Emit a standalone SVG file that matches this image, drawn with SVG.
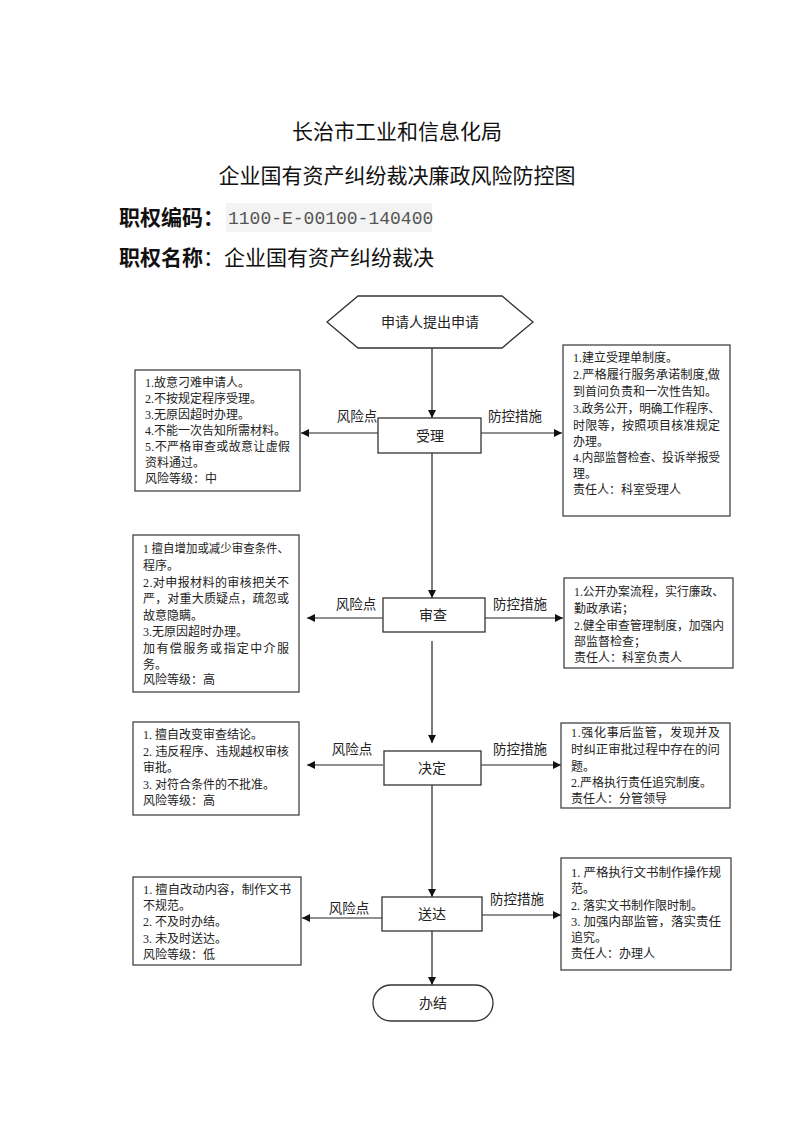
<svg xmlns="http://www.w3.org/2000/svg" width="794" height="1123" viewBox="0 0 794 1123">
<defs>
<marker id="ah" viewBox="0 0 10 10" refX="10" refY="5" markerWidth="8" markerHeight="8" markerUnits="userSpaceOnUse" orient="auto">
<path d="M0,0 L10,5 L0,10 z" fill="#111"/>
</marker>
</defs>
<style>
.title{font-family:"Noto Sans CJK SC","Noto Sans",sans-serif;font-size:21px;fill:#111}
.lbl{font-family:"Noto Sans CJK SC","Noto Sans",sans-serif;font-size:21px;fill:#111;font-weight:bold}
.code{font-family:"Liberation Mono","DejaVu Sans Mono",monospace;font-size:18px;fill:#555}
.box{fill:#fff;stroke:#444;stroke-width:1.3}
.node{fill:#fff;stroke:#333;stroke-width:1.3}
.bt{font-family:"Liberation Serif","Noto Sans CJK SC",serif;font-size:12px;fill:#222}
.nt{font-family:"Noto Sans CJK SC","Noto Sans",sans-serif;font-size:14px;fill:#222;text-anchor:middle}
.el{font-family:"Noto Sans CJK SC","Noto Sans",sans-serif;font-size:13.5px;fill:#222;text-anchor:middle}
.ln{stroke:#222;stroke-width:1.2;fill:none}
</style>
<rect width="794" height="1123" fill="#fff"/>
<g id="header">
<text class="title" x="397" y="139" text-anchor="middle">长治市工业和信息化局</text>
<text class="title" x="397" y="183" text-anchor="middle">企业国有资产纠纷裁决廉政风险防控图</text>
<text class="lbl" x="119" y="225">职权编码：</text>
<rect x="226" y="203" width="206" height="29" fill="#f3f3f3"/>
<text class="code" x="228" y="224">1100-E-00100-140400</text>
<text class="lbl" x="119" y="265">职权名称<tspan font-weight="normal">：企业国有资产纠纷裁决</tspan></text>
</g>
<g id="connectors">
<line class="ln" x1="432" y1="348" x2="432" y2="418" marker-end="url(#ah)"/>
<line class="ln" x1="432" y1="453" x2="432" y2="598" marker-end="url(#ah)"/>
<line class="ln" x1="432" y1="641" x2="432" y2="743" marker-end="url(#ah)"/>
<line class="ln" x1="432" y1="785" x2="432" y2="897" marker-end="url(#ah)"/>
<line class="ln" x1="432" y1="931" x2="432" y2="985" marker-end="url(#ah)"/>
<line class="ln" x1="378" y1="433" x2="301" y2="433" marker-end="url(#ah)"/>
<line class="ln" x1="481" y1="433" x2="562" y2="433" marker-end="url(#ah)"/>
<line class="ln" x1="383" y1="618" x2="307" y2="618" marker-end="url(#ah)"/>
<line class="ln" x1="485" y1="618" x2="563" y2="618" marker-end="url(#ah)"/>
<line class="ln" x1="383" y1="765" x2="307" y2="765" marker-end="url(#ah)"/>
<line class="ln" x1="481" y1="765" x2="561" y2="765" marker-end="url(#ah)"/>
<line class="ln" x1="382" y1="918" x2="302" y2="918" marker-end="url(#ah)"/>
<line class="ln" x1="482" y1="915" x2="561" y2="915" marker-end="url(#ah)"/>
<text class="el" x="357" y="421">风险点</text>
<text class="el" x="515" y="421">防控措施</text>
<text class="el" x="356" y="609">风险点</text>
<text class="el" x="520" y="609">防控措施</text>
<text class="el" x="352" y="754">风险点</text>
<text class="el" x="520" y="754">防控措施</text>
<text class="el" x="349" y="913">风险点</text>
<text class="el" x="517" y="904">防控措施</text>
</g>
<g id="start">
<polygon class="node" points="327,322 358,296 502,296 533,322 502,348 358,348"/>
<text class="nt" x="430" y="327">申请人提出申请</text>
</g>
<g id="shouli">
<rect class="node" x="378" y="418" width="103" height="35"/>
<text class="nt" x="430" y="441">受理</text>
</g>
<g id="shencha">
<rect class="node" x="383" y="598" width="102" height="34"/>
<text class="nt" x="433" y="620">审查</text>
</g>
<g id="jueding">
<rect class="node" x="384" y="751" width="97" height="34"/>
<text class="nt" x="432" y="773">决定</text>
</g>
<g id="songda">
<rect class="node" x="382" y="897" width="100" height="34"/>
<text class="nt" x="432" y="919">送达</text>
</g>
<g id="banjie">
<rect class="node" x="373" y="985" width="120" height="36" rx="18" ry="18"/>
<text class="nt" x="433" y="1008">办结</text>
</g>
<g id="risk1">
<rect class="box" x="135" y="370" width="165" height="121"/>
<text class="bt" x="145" y="387">1.故意刁难申请人。</text>
<text class="bt" x="145" y="403">2.不按规定程序受理。</text>
<text class="bt" x="145" y="419">3.无原因超时办理。</text>
<text class="bt" x="145" y="435">4.不能一次告知所需材料。</text>
<text class="bt" x="145" y="451" textLength="145" lengthAdjust="spacing">5.不严格审查或故意让虚假</text>
<text class="bt" x="145" y="467">资料通过。</text>
<text class="bt" x="145" y="483">风险等级：中</text>
</g>
<g id="ctrl1">
<rect class="box" x="563" y="345" width="167" height="171"/>
<text class="bt" x="573" y="362">1.建立受理单制度。</text>
<text class="bt" x="573" y="379" textLength="147" lengthAdjust="spacingAndGlyphs">2.严格履行服务承诺制度,做</text>
<text class="bt" x="573" y="396">到首问负责和一次性告知。</text>
<text class="bt" x="573" y="413" textLength="147" lengthAdjust="spacingAndGlyphs">3.政务公开，明确工作程序、</text>
<text class="bt" x="573" y="430" textLength="147" lengthAdjust="spacing">时限等，按照项目核准规定</text>
<text class="bt" x="573" y="446">办理。</text>
<text class="bt" x="573" y="462" textLength="147" lengthAdjust="spacingAndGlyphs">4.内部监督检查、投诉举报受</text>
<text class="bt" x="573" y="478">理。</text>
<text class="bt" x="573" y="494">责任人：科室受理人</text>
</g>
<g id="risk2">
<rect class="box" x="133" y="535" width="166" height="157"/>
<text class="bt" x="143" y="553" textLength="146" lengthAdjust="spacingAndGlyphs">1 擅自增加或减少审查条件、</text>
<text class="bt" x="143" y="570">程序。</text>
<text class="bt" x="143" y="587" textLength="146" lengthAdjust="spacing">2.对申报材料的审核把关不</text>
<text class="bt" x="143" y="603" textLength="146" lengthAdjust="spacing">严，对重大质疑点，疏忽或</text>
<text class="bt" x="143" y="620">故意隐瞒。</text>
<text class="bt" x="143" y="636">3.无原因超时办理。</text>
<text class="bt" x="143" y="653" textLength="146" lengthAdjust="spacing">加有偿服务或指定中介服</text>
<text class="bt" x="143" y="669">务。</text>
<text class="bt" x="143" y="684">风险等级：高</text>
</g>
<g id="ctrl2">
<rect class="box" x="564" y="578" width="169" height="90"/>
<text class="bt" x="574" y="596" textLength="150" lengthAdjust="spacingAndGlyphs">1.公开办案流程，实行廉政、</text>
<text class="bt" x="574" y="613">勤政承诺；</text>
<text class="bt" x="574" y="630" textLength="150" lengthAdjust="spacingAndGlyphs">2.健全审查管理制度，加强内</text>
<text class="bt" x="574" y="646">部监督检查；</text>
<text class="bt" x="574" y="662">责任人：科室负责人</text>
</g>
<g id="risk3">
<rect class="box" x="133" y="722" width="166" height="93"/>
<text class="bt" x="143" y="739">1. 擅自改变审查结论。</text>
<text class="bt" x="143" y="756" textLength="146" lengthAdjust="spacingAndGlyphs">2. 违反程序、违规越权审核</text>
<text class="bt" x="143" y="772">审批。</text>
<text class="bt" x="143" y="789">3. 对符合条件的不批准。</text>
<text class="bt" x="143" y="805">风险等级：高</text>
</g>
<g id="ctrl3">
<rect class="box" x="561" y="723" width="169" height="85"/>
<text class="bt" x="571" y="737" textLength="149" lengthAdjust="spacing">1.强化事后监管，发现并及</text>
<text class="bt" x="571" y="754" textLength="149" lengthAdjust="spacingAndGlyphs">时纠正审批过程中存在的问</text>
<text class="bt" x="571" y="771">题。</text>
<text class="bt" x="571" y="787">2.严格执行责任追究制度。</text>
<text class="bt" x="571" y="803">责任人：分管领导</text>
</g>
<g id="risk4">
<rect class="box" x="133" y="877" width="168" height="88"/>
<text class="bt" x="143" y="894" textLength="148" lengthAdjust="spacingAndGlyphs">1. 擅自改动内容，制作文书</text>
<text class="bt" x="143" y="910">不规范。</text>
<text class="bt" x="143" y="926">2. 不及时办结。</text>
<text class="bt" x="143" y="943">3. 未及时送达。</text>
<text class="bt" x="143" y="959">风险等级：低</text>
</g>
<g id="ctrl4">
<rect class="box" x="561" y="858" width="170" height="112"/>
<text class="bt" x="571" y="877" textLength="150" lengthAdjust="spacingAndGlyphs">1. 严格执行文书制作操作规</text>
<text class="bt" x="571" y="893">范。</text>
<text class="bt" x="571" y="910">2. 落实文书制作限时制。</text>
<text class="bt" x="571" y="926" textLength="150" lengthAdjust="spacingAndGlyphs">3. 加强内部监管，落实责任</text>
<text class="bt" x="571" y="942">追究。</text>
<text class="bt" x="571" y="958">责任人：办理人</text>
</g>
</svg>
